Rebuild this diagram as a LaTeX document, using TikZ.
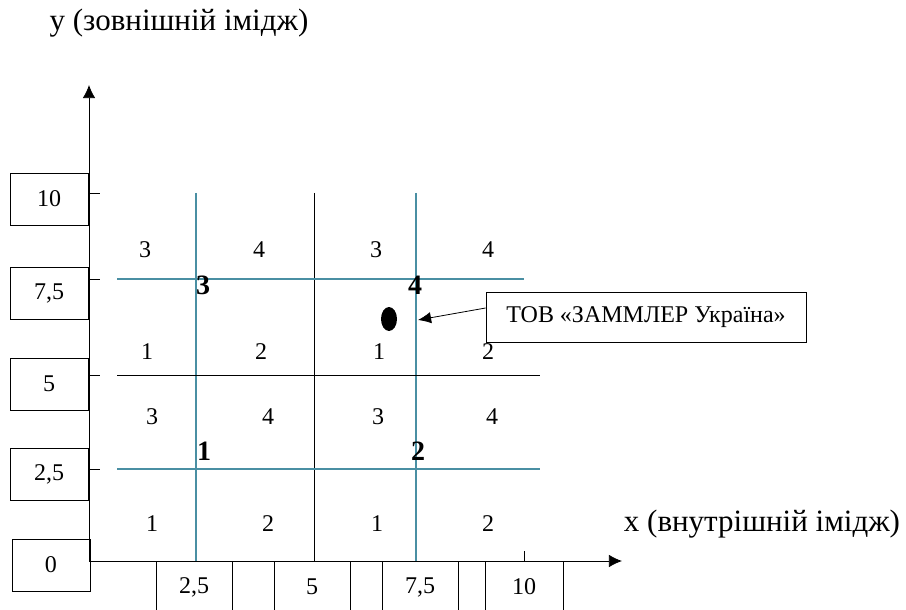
\documentclass[tikz,border=0pt]{standalone}
\usepackage{fontspec}
\setmainfont{Liberation Serif}
\usetikzlibrary{arrows.meta,shapes.geometric}
\definecolor{gridteal}{RGB}{74,143,163}

\begin{document}
\begin{tikzpicture}[
  x=0.5pt, y=-0.5pt,
  every node/.style={inner sep=0, font=\fontsize{12}{14}\selectfont},
  valbox/.style={draw, minimum width=39pt, minimum height=26pt},
  cornernum/.style={font=\fontsize{14}{16}\selectfont\bfseries},
  axislabel/.style={font=\fontsize{15.5}{18}\selectfont},
  tealline/.style={draw=gridteal, line width=0.6pt}
]
\useasboundingbox (0,0) rectangle (906,610);
\clip (0,0) rectangle (906,610);

% axes
\coordinate (o) at (89,561);
\coordinate (ytop) at (89,85);
\coordinate (xend) at (622,561);
\draw[-{Latex[length=2.3mm,width=2.2mm]}] (o) -- (ytop);
\draw[-{Latex[length=2.3mm,width=2.2mm]}] (o) -- (xend);
\node[axislabel] (ylab) at (179,23) {у (зовнішній імідж)};
\node[axislabel] (xlab) at (762,524) {х (внутрішній імідж)};

% scale boxes
\node[valbox] (y10) at (49,199) {10};
\node[valbox] (y75) at (49,293) {7,5};
\node[valbox] (y5) at (49,384) {5};
\node[valbox] (y25) at (49,474) {2,5};
\node[valbox] (y0) at (51,565) {0};
\node[valbox, minimum width=38pt] (x25) at (194,587) {2,5};
\node[valbox, minimum width=38pt] (x5) at (312,587) {5};
\node[valbox, minimum width=38pt] (x75) at (420,587) {7,5};
\node[valbox] (x10) at (524,587) {10};

% ticks
\draw (89,193) -- (100,193);
\draw (89,279) -- (100,279);
\draw (89,375) -- (100,375);
\draw (89,469) -- (100,469);
\draw (524,561) -- (524,551);

% grid
\draw[tealline] (196,193) -- (196,561);
\draw (314,193) -- (314,561);
\draw[tealline] (416,193) -- (416,561);
\draw[tealline] (117,279) -- (524,279);
\draw (117,375) -- (540,375);
\draw[tealline] (117,469) -- (540,469);

% quadrant numbers
\node (a3) at (145,250) {3};
\node (a4) at (259,250) {4};
\node (b3) at (376,250) {3};
\node (b4) at (488,250) {4};
\node (a1) at (147,352) {1};
\node (a2) at (261,352) {2};
\node (b1) at (379,352) {1};
\node (b2) at (488,352) {2};
\node (c3) at (152,417) {3};
\node (c4) at (268,417) {4};
\node (d3) at (378,417) {3};
\node (d4) at (492,417) {4};
\node (c1) at (152,524) {1};
\node (c2) at (268,524) {2};
\node (d1) at (377,524) {1};
\node (d2) at (488,524) {2};

\node[cornernum] (k3) at (203,285) {3};
\node[cornernum] (k4) at (415,285) {4};
\node[cornernum] (k1) at (204,451) {1};
\node[cornernum] (k2) at (418,451) {2};

% firm
\node[ellipse, fill, minimum width=8pt, minimum height=12pt] (dot) at (389,319) {};
\node[draw, minimum width=160pt, minimum height=25pt] (firm) at (646,317) {ТОВ «ЗАММЛЕР Україна»};
\coordinate (tip) at (418,320);
\draw[-{Latex[length=2.3mm,width=2mm]}] ([yshift=4.5pt]firm.west) -- (tip);
\end{tikzpicture}
\end{document}
